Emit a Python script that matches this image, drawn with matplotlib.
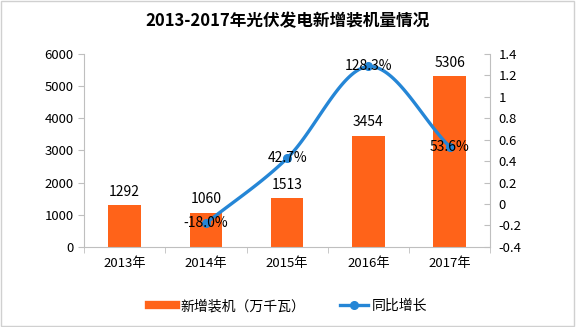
import numpy as np
import matplotlib
matplotlib.use("Agg")
import matplotlib.pyplot as plt
from matplotlib.lines import Line2D

plt.rcParams['font.family'] = ['Noto Sans CJK SC', 'DejaVu Sans']

years = ['2013年', '2014年', '2015年', '2016年', '2017年']
installed = [1292, 1060, 1513, 3454, 5306]
growth_years = [1, 2, 3, 4]
growth = [-0.180, 0.427, 1.283, 0.536]
growth_labels = ['-18.0%', '42.7%', '128.3%', '53.6%']

orange = '#FF6319'
blue = '#2586D6'
grey = '#BFBFBF'


def catmull_rom(xs, ys, n=40):
    # smoothed line like the office chart style
    xs = np.asarray(xs, float)
    ys = np.asarray(ys, float)
    px = np.concatenate([[2 * xs[0] - xs[1]], xs, [2 * xs[-1] - xs[-2]]])
    py = np.concatenate([[2 * ys[0] - ys[1]], ys, [2 * ys[-1] - ys[-2]]])
    out_x, out_y = [], []
    for i in range(1, len(px) - 2):
        t = np.linspace(0, 1, n)
        for p, out in ((px, out_x), (py, out_y)):
            p0, p1, p2, p3 = p[i - 1], p[i], p[i + 1], p[i + 2]
            out.extend(0.5 * (2 * p1 + (-p0 + p2) * t
                              + (2 * p0 - 5 * p1 + 4 * p2 - p3) * t ** 2
                              + (-p0 + 3 * p1 - 3 * p2 + p3) * t ** 3))
    return np.array(out_x), np.array(out_y)


fig = plt.figure(figsize=(5.76, 3.27), dpi=100)
ax = fig.add_axes([0.146, 0.245, 0.705, 0.590])
ax2 = ax.twinx()

x = np.arange(len(years))
ax.bar(x, installed, width=0.4, color=orange, zorder=2)
for xi, v in zip(x, installed):
    ax.text(xi, v + 200, str(v), ha='center', va='bottom', fontsize=10)

ax.set_xlim(-0.5, 4.5)
ax.set_ylim(0, 6000)
ax.set_yticks(range(0, 6001, 1000))
ax.set_xticks(x)
ax.set_xticklabels(years)
ax.set_xticks(np.arange(-0.5, 4.6, 1), minor=True)
ax.tick_params(axis='x', which='major', length=0, labelsize=9.5, pad=7)
ax.tick_params(axis='x', which='minor', length=4, color=grey, direction='out')
ax.tick_params(axis='y', labelsize=9.5, length=4, color=grey, direction='out')
for s in ['top', 'right']:
    ax.spines[s].set_visible(False)
for s in ['left', 'bottom']:
    ax.spines[s].set_color(grey)

sx, sy = catmull_rom(growth_years, growth)
ax2.plot(sx, sy, color=blue, lw=2.4, zorder=3)
ax2.plot(growth_years, growth, 'o', color=blue, ms=5.5, zorder=4)
for xi, v, lab in zip(growth_years, growth, growth_labels):
    ax2.text(xi, v, lab, ha='center', va='center', fontsize=10, zorder=5)
ax2.set_ylim(-0.4, 1.4)
ax2.set_yticks(np.round(np.arange(-0.4, 1.41, 0.2), 1))
ax2.set_yticklabels(['-0.4', '-0.2', '0', '0.2', '0.4', '0.6', '0.8', '1', '1.2', '1.4'])
ax2.tick_params(axis='y', labelsize=9.5, length=4, color=grey, direction='in', pad=6)
for s in ['top', 'left', 'bottom']:
    ax2.spines[s].set_visible(False)
ax2.spines['right'].set_color(grey)

fig.text(0.5, 0.935, '2013-2017年光伏发电新增装机量情况', ha='center', va='center',
         fontsize=12, fontweight='bold')

handles = [Line2D([], [], color=orange, lw=6),
           Line2D([], [], color=blue, lw=2.4, marker='o', ms=5.5)]
fig.legend(handles, ['新增装机（万千瓦）', '同比增长'], loc='center',
           bbox_to_anchor=(0.5, 0.064), ncol=2, frameon=False, fontsize=10,
           handlelength=2.0, handletextpad=0.3, columnspacing=2.5)

fig.patches.append(plt.Rectangle((0.002, 0.003), 0.995, 0.993, transform=fig.transFigure,
                                 fill=False, edgecolor='#D0D0D0', lw=1))

fig.savefig('out.png', dpi=100)
